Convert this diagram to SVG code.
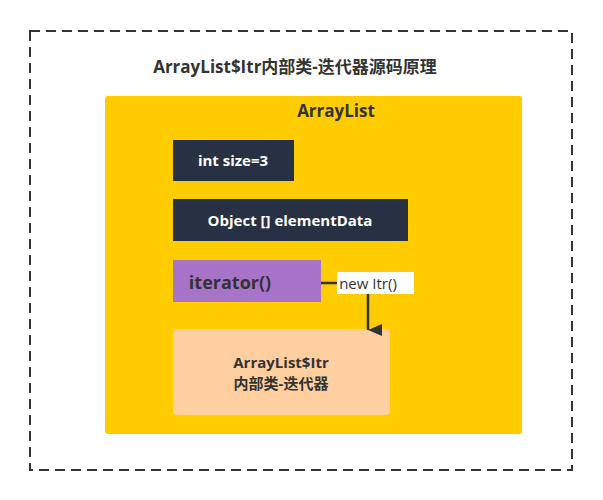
<svg xmlns="http://www.w3.org/2000/svg" width="603" height="500" viewBox="0 0 603 500">
<style>
text{font-family:"Open Sans","Noto Sans CJK SC",sans-serif;font-weight:bold;fill:#333;text-anchor:middle}
.w{fill:#fff}
</style>
<defs><marker id="a" markerWidth="12" markerHeight="14" refX="6" refY="14" orient="auto" markerUnits="userSpaceOnUse"><path d="M0,0 L12,0 L6,14Z" fill="#333" transform="rotate(0)"/></marker></defs>
<rect x="0" y="0" width="603" height="500" fill="#fff"/>
<rect x="30" y="31" width="542" height="439" fill="none" stroke="#333" stroke-width="2" stroke-dasharray="10,6"/>
<text x="295" y="73" font-size="17">ArrayList$Itr内部类-迭代器源码原理</text>
<g id="arraylist"><rect x="105" y="96" width="417" height="338" rx="3" fill="#FFCC00"/><text x="336" y="117" font-size="17">ArrayList</text></g>
<g id="size"><rect x="173" y="140" width="121" height="41" fill="#283044"/><text class="w" x="233" y="166" font-size="15">int size=3</text></g>
<g id="data"><rect x="173" y="199" width="235" height="42" fill="#283044"/><text class="w" x="290" y="226" font-size="15">Object [] elementData</text></g>
<g id="iter"><rect x="173" y="260" width="148" height="42" fill="#A874CA"/><text x="230" y="289" font-size="18">iterator()</text></g>
<g id="itr"><rect x="173" y="329" width="217" height="86" rx="4" fill="#FFCFA0"/><text x="281" y="368" font-size="15">ArrayList$Itr</text><text x="281" y="389" font-size="15">内部类-迭代器</text></g>
<g id="connectors"><path d="M321,283 H368 V330" fill="none" stroke="#333" stroke-width="2.5" marker-end="url(#a)"/>
<rect x="337" y="272" width="77" height="22" fill="#fff"/><text x="368" y="289" font-size="15" style="font-weight:normal">new Itr()</text></g>
</svg>
